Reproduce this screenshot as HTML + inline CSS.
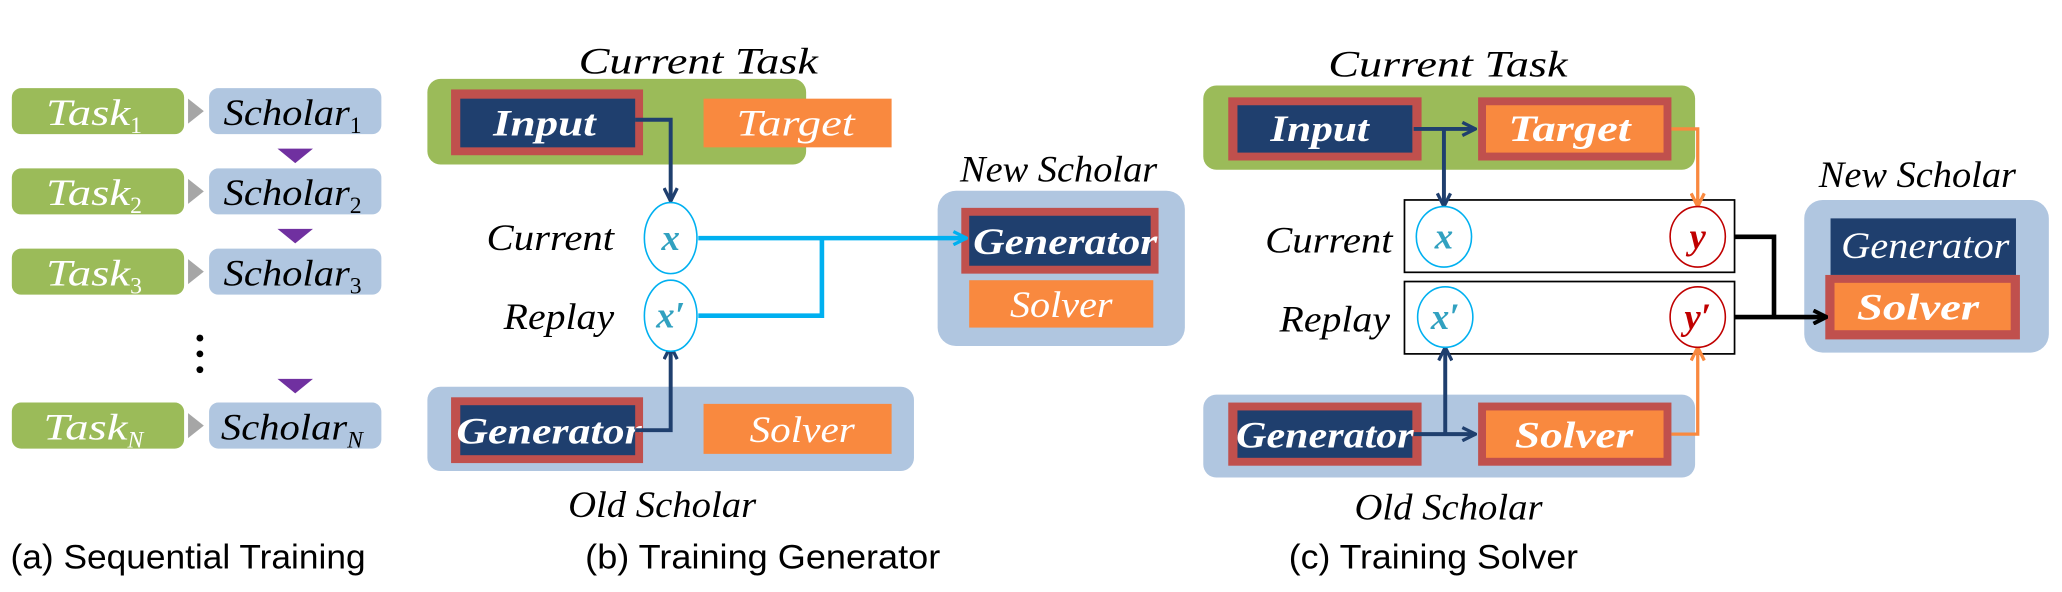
<!DOCTYPE html>
<html><head><meta charset="utf-8"><style>
html,body{margin:0;padding:0;background:#fff;}
svg{display:block;}
.l{font-family:"Liberation Serif",serif;font-style:italic;}
.c{font-family:"Liberation Sans",sans-serif;}
</style></head><body>
<svg width="2062" height="592" viewBox="0 0 1568 450" preserveAspectRatio="none" xmlns="http://www.w3.org/2000/svg">
<defs>
<marker id="aN" viewBox="0 0 12 12" refX="11" refY="6" markerWidth="12" markerHeight="12" orient="auto" markerUnits="userSpaceOnUse"><path d="M1,1 L11,6 L1,11" fill="none" stroke="#1f3f6e" stroke-width="2.5"/></marker>
<marker id="aC" viewBox="0 0 12 12" refX="11" refY="6" markerWidth="12" markerHeight="12" orient="auto" markerUnits="userSpaceOnUse"><path d="M1,1 L11,6 L1,11" fill="none" stroke="#00b0f0" stroke-width="2.5"/></marker>
<marker id="aO" viewBox="0 0 12 12" refX="11" refY="6" markerWidth="12" markerHeight="12" orient="auto" markerUnits="userSpaceOnUse"><path d="M1,1 L11,6 L1,11" fill="none" stroke="#f9893f" stroke-width="2.5"/></marker>
<marker id="aK" viewBox="0 0 12 12" refX="11" refY="6" markerWidth="12" markerHeight="12" orient="auto" markerUnits="userSpaceOnUse"><path d="M1,1 L11,6 L1,11" fill="none" stroke="#000" stroke-width="3"/></marker>
</defs>
<g class="l" font-size="28" lengthAdjust="spacingAndGlyphs">
<!-- (a) -->
<rect x="9" y="67" width="131" height="35" rx="7" fill="#9bbb59"/>
<rect x="159" y="67" width="131" height="35" rx="7" fill="#b0c6e0"/>
<rect x="9" y="128" width="131" height="35" rx="7" fill="#9bbb59"/>
<rect x="159" y="128" width="131" height="35" rx="7" fill="#b0c6e0"/>
<rect x="9" y="189" width="131" height="35" rx="7" fill="#9bbb59"/>
<rect x="159" y="189" width="131" height="35" rx="7" fill="#b0c6e0"/>
<rect x="9" y="306" width="131" height="35" rx="7" fill="#9bbb59"/>
<rect x="159" y="306" width="131" height="35" rx="7" fill="#b0c6e0"/>
<g fill="#a6a6a6"><path d="M143,75 L155,84.5 L143,94Z"/><path d="M143,136 L155,145.5 L143,155Z"/><path d="M143,197 L155,206.5 L143,216Z"/><path d="M143,314 L155,323.5 L143,333Z"/></g>
<g fill="#7030a0"><path d="M211,113 L238,113 L224.5,124Z"/><path d="M211,174 L238,174 L224.5,185Z"/><path d="M211,288 L238,288 L224.5,299Z"/></g>
<g fill="#000"><circle cx="152" cy="257" r="2.6"/><circle cx="152" cy="269" r="2.6"/><circle cx="152" cy="281" r="2.6"/></g>
<text x="35" y="95" fill="#fff"><tspan textLength="64" lengthAdjust="spacingAndGlyphs">Task</tspan><tspan font-size="18" dy="6" font-style="normal">1</tspan></text>
<text x="35" y="156" fill="#fff"><tspan textLength="64" lengthAdjust="spacingAndGlyphs">Task</tspan><tspan font-size="18" dy="6" font-style="normal">2</tspan></text>
<text x="35" y="217" fill="#fff"><tspan textLength="64" lengthAdjust="spacingAndGlyphs">Task</tspan><tspan font-size="18" dy="6" font-style="normal">3</tspan></text>
<text x="33" y="334" fill="#fff"><tspan textLength="64" lengthAdjust="spacingAndGlyphs">Task</tspan><tspan font-size="18" dy="6">N</tspan></text>
<text x="170" y="95"><tspan textLength="96" lengthAdjust="spacingAndGlyphs">Scholar</tspan><tspan font-size="18" dy="6" font-style="normal">1</tspan></text>
<text x="170" y="156"><tspan textLength="96" lengthAdjust="spacingAndGlyphs">Scholar</tspan><tspan font-size="18" dy="6" font-style="normal">2</tspan></text>
<text x="170" y="217"><tspan textLength="96" lengthAdjust="spacingAndGlyphs">Scholar</tspan><tspan font-size="18" dy="6" font-style="normal">3</tspan></text>
<text x="168" y="334"><tspan textLength="96" lengthAdjust="spacingAndGlyphs">Scholar</tspan><tspan font-size="18" dy="6">N</tspan></text>

<!-- (b) -->
<text x="440" y="56" textLength="182" lengthAdjust="spacingAndGlyphs">Current Task</text>
<rect x="325" y="60" width="288" height="65" rx="10" fill="#9bbb59"/>
<rect x="343" y="68" width="146" height="50" fill="#c0504d"/>
<rect x="350" y="75" width="133" height="37" fill="#1f3f6e"/>
<text x="375" y="103" fill="#fff" font-weight="bold" textLength="78" lengthAdjust="spacingAndGlyphs">Input</text>
<rect x="535" y="75" width="143" height="37" fill="#f9893f"/>
<text x="560" y="103" fill="#fff" textLength="90" lengthAdjust="spacingAndGlyphs">Target</text>
<text x="370" y="190" textLength="97" lengthAdjust="spacingAndGlyphs">Current</text>
<text x="383" y="250" textLength="84" lengthAdjust="spacingAndGlyphs">Replay</text>
<text x="730" y="138" textLength="150" lengthAdjust="spacingAndGlyphs">New Scholar</text>
<rect x="713" y="145" width="188" height="118" rx="14" fill="#b0c6e0"/>
<rect x="731" y="158" width="150" height="50" fill="#c0504d"/>
<rect x="737" y="164" width="138" height="38" fill="#1f3f6e"/>
<text x="740" y="193" fill="#fff" font-weight="bold" textLength="140" lengthAdjust="spacingAndGlyphs">Generator</text>
<rect x="737" y="213" width="140" height="36" fill="#f9893f"/>
<text x="768" y="241" fill="#fff" textLength="78" lengthAdjust="spacingAndGlyphs">Solver</text>
<rect x="325" y="294" width="370" height="64" rx="10" fill="#b0c6e0"/>
<rect x="343" y="302" width="146" height="50" fill="#c0504d"/>
<rect x="350" y="308" width="133" height="38" fill="#1f3f6e"/>
<text x="347" y="337" fill="#fff" font-weight="bold" textLength="141" lengthAdjust="spacingAndGlyphs">Generator</text>
<rect x="535" y="307" width="143" height="38" fill="#f9893f"/>
<text x="570" y="336" fill="#fff" textLength="80" lengthAdjust="spacingAndGlyphs">Solver</text>
<text x="432" y="393" textLength="143" lengthAdjust="spacingAndGlyphs">Old Scholar</text>
<path d="M483,91 H510 V153" fill="none" stroke="#1f3f6e" stroke-width="3" marker-end="url(#aN)"/>
<path d="M483,327 H510 V263" fill="none" stroke="#1f3f6e" stroke-width="3" marker-end="url(#aN)"/>
<path d="M531,181 H735" fill="none" stroke="#00b0f0" stroke-width="3.5" marker-end="url(#aC)"/>
<path d="M531,240 H625 V181" fill="none" stroke="#00b0f0" stroke-width="3.5"/>
<ellipse cx="510" cy="181" rx="20" ry="27" fill="#fff" stroke="#00b0f0" stroke-width="1.2"/>
<ellipse cx="510" cy="240" rx="20" ry="27" fill="#fff" stroke="#00b0f0" stroke-width="1.2"/>
<text x="510" y="190" text-anchor="middle" fill="#31a1c0" font-weight="bold">x</text>
<text x="510" y="249" text-anchor="middle" fill="#31a1c0" font-weight="bold">x′</text>

<!-- (c) -->
<text x="1010" y="58" textLength="182" lengthAdjust="spacingAndGlyphs">Current Task</text>
<rect x="915" y="65" width="374" height="64" rx="10" fill="#9bbb59"/>
<rect x="934" y="74" width="147" height="48" fill="#c0504d"/>
<rect x="941" y="80" width="133" height="36" fill="#1f3f6e"/>
<text x="966" y="107" fill="#fff" font-weight="bold" textLength="75" lengthAdjust="spacingAndGlyphs">Input</text>
<rect x="1124" y="74" width="147" height="48" fill="#c0504d"/>
<rect x="1130" y="80" width="135" height="36" fill="#f9893f"/>
<text x="1147" y="107" fill="#fff" font-weight="bold" textLength="93" lengthAdjust="spacingAndGlyphs">Target</text>
<rect x="1068" y="152" width="251" height="55" fill="#fff" stroke="#000" stroke-width="1.3"/>
<rect x="1068" y="214" width="251" height="55" fill="#fff" stroke="#000" stroke-width="1.3"/>
<text x="962" y="192" textLength="97" lengthAdjust="spacingAndGlyphs">Current</text>
<text x="973" y="252" textLength="84" lengthAdjust="spacingAndGlyphs">Replay</text>
<rect x="915" y="300" width="374" height="63" rx="10" fill="#b0c6e0"/>
<rect x="934" y="306" width="147" height="48" fill="#c0504d"/>
<rect x="941" y="312" width="133" height="36" fill="#1f3f6e"/>
<text x="940" y="340" fill="#fff" font-weight="bold" textLength="135" lengthAdjust="spacingAndGlyphs">Generator</text>
<rect x="1124" y="306" width="147" height="48" fill="#c0504d"/>
<rect x="1130" y="312" width="135" height="36" fill="#f9893f"/>
<text x="1152" y="340" fill="#fff" font-weight="bold" textLength="90" lengthAdjust="spacingAndGlyphs">Solver</text>
<text x="1030" y="395" textLength="143" lengthAdjust="spacingAndGlyphs">Old Scholar</text>
<text x="1383" y="142" textLength="150" lengthAdjust="spacingAndGlyphs">New Scholar</text>
<rect x="1372" y="152" width="186" height="116" rx="14" fill="#b0c6e0"/>
<rect x="1392" y="166" width="141" height="43" fill="#1f3f6e"/>
<text x="1400" y="196" fill="#fff" textLength="128" lengthAdjust="spacingAndGlyphs">Generator</text>
<rect x="1388" y="209" width="148" height="49" fill="#c0504d"/>
<rect x="1395" y="215" width="134" height="36" fill="#f9893f"/>
<text x="1412" y="243" fill="#fff" font-weight="bold" textLength="93" lengthAdjust="spacingAndGlyphs">Solver</text>
<path d="M1075,98 H1122" fill="none" stroke="#1f3f6e" stroke-width="3" marker-end="url(#aN)"/>
<path d="M1098,98 V157" fill="none" stroke="#1f3f6e" stroke-width="3" marker-end="url(#aN)"/>
<path d="M1075,330 H1122" fill="none" stroke="#1f3f6e" stroke-width="3" marker-end="url(#aN)"/>
<path d="M1099,330 V264" fill="none" stroke="#1f3f6e" stroke-width="3" marker-end="url(#aN)"/>
<path d="M1271,98 H1291 V157" fill="none" stroke="#f9893f" stroke-width="2.5" marker-end="url(#aO)"/>
<path d="M1271,330 H1291 V264" fill="none" stroke="#f9893f" stroke-width="2.5" marker-end="url(#aO)"/>
<path d="M1319,180 H1349 V241" fill="none" stroke="#000" stroke-width="3.5"/>
<path d="M1319,241 H1389" fill="none" stroke="#000" stroke-width="3.5" marker-end="url(#aK)"/>
<ellipse cx="1098" cy="180" rx="21" ry="23" fill="#fff" stroke="#00b0f0" stroke-width="1.2"/>
<ellipse cx="1099" cy="241" rx="21" ry="23" fill="#fff" stroke="#00b0f0" stroke-width="1.2"/>
<ellipse cx="1291" cy="180" rx="21" ry="23" fill="#fff" stroke="#c00000" stroke-width="1.2"/>
<ellipse cx="1291" cy="241" rx="21" ry="23" fill="#fff" stroke="#c00000" stroke-width="1.2"/>
<text x="1098" y="189" text-anchor="middle" fill="#31a1c0" font-weight="bold">x</text>
<text x="1099" y="250" text-anchor="middle" fill="#31a1c0" font-weight="bold">x′</text>
<text x="1291" y="189" text-anchor="middle" fill="#c00000" font-weight="bold">y</text>
<text x="1291" y="250" text-anchor="middle" fill="#c00000" font-weight="bold">y′</text>
</g>
<g class="c" font-size="26" fill="#000">
<text x="8" y="432" textLength="270" lengthAdjust="spacingAndGlyphs">(a) Sequential Training</text>
<text x="445" y="432" textLength="270" lengthAdjust="spacingAndGlyphs">(b) Training Generator</text>
<text x="980" y="432" textLength="220" lengthAdjust="spacingAndGlyphs">(c) Training Solver</text>
</g>
</svg>
</body></html>
